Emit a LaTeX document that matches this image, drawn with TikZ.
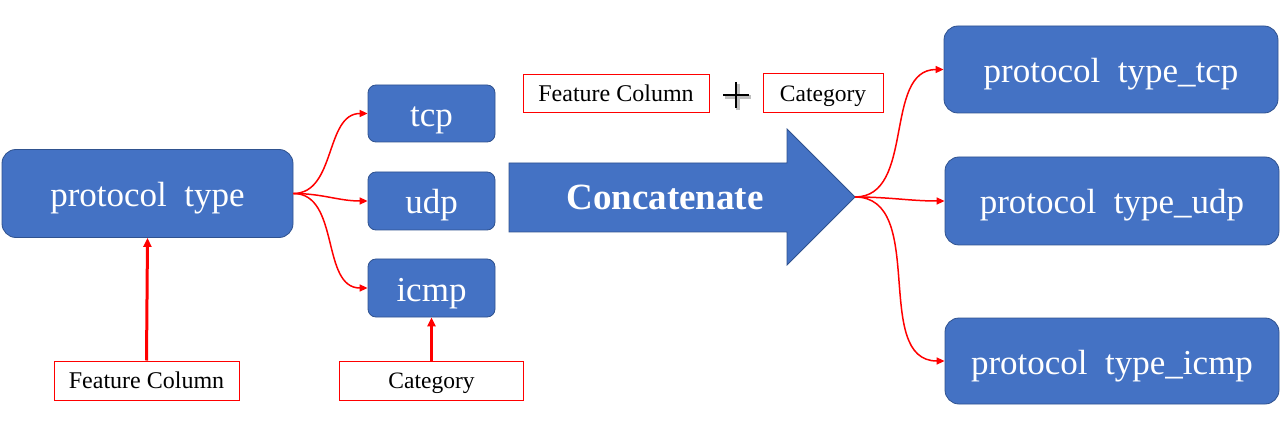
\documentclass[tikz,border=0pt]{standalone}
\usepackage{fontspec}
\setmainfont{Liberation Serif}
\usetikzlibrary{arrows.meta}
\definecolor{boxblue}{HTML}{4472C4}
\definecolor{boxedge}{HTML}{2F528F}
\tikzset{
  bluebox/.style={draw=boxedge, line width=0.8pt, fill=boxblue, text=white, rounded corners=#1, inner sep=0pt, font=\fontsize{35}{40}\selectfont, text height=35pt, text depth=9pt},
  bluebox/.default=14pt,
  redbox/.style={draw=red, line width=1pt, fill=white, text=black, inner sep=0pt, font=\fontsize{23.5}{26}\selectfont, text height=22pt, text depth=6pt},
  conn/.style={draw=red, line width=1.5pt, -{Triangle[length=8pt,width=7pt]}},
  thickconn/.style={draw=red, line width=3pt, -{Triangle[length=9pt,width=8pt]}},
}
\begin{document}
\begin{tikzpicture}[x=1pt,y=-1pt]
\useasboundingbox (0,0) rectangle (1280,422);
% left side
\node[bluebox, minimum width=291pt, minimum height=88pt] (pt) at (147.5,193.5) {protocol\ \ type};
\node[bluebox=8pt, minimum width=127pt, minimum height=57pt] (tcp) at (431.5,113.5) {tcp};
\node[bluebox=8pt, minimum width=127pt, minimum height=58pt] (udp) at (431.5,201) {udp};
\node[bluebox=8pt, minimum width=127pt, minimum height=58pt] (icmp) at (431.5,288) {icmp};
\node[redbox, minimum width=185pt, minimum height=39pt, font=\fontsize{24}{26}\selectfont] (fc) at (146.5,380.5) {Feature Column};
\node[redbox, minimum width=184pt, minimum height=39pt] (cat) at (431.5,380.5) {Category};
\draw[thickconn] (fc.north) -- (pt.south);
\draw[thickconn] (cat.north) -- (icmp.south);
\draw[conn] (pt.east) to[out=0,in=180] (tcp.west);
\draw[conn] (pt.east) to[out=0,in=180] (udp.west);
\draw[conn] (pt.east) to[out=0,in=180] (icmp.west);
% big arrow
\fill[boxblue, draw=boxedge, line width=0.8pt] (509,163) -- (787,163) -- (787,129) -- (855,197) -- (787,265) -- (787,232) -- (509,232) -- cycle;
\coordinate (tip) at (855,197);
\node[text=white, font=\fontsize{37}{40}\selectfont\bfseries, inner sep=0pt] (concat) at (665,197.5) {Concatenate};
% top labels
\node[redbox, minimum width=186pt, minimum height=38pt, font=\fontsize{24}{26}\selectfont] (fc2) at (616,94) {Feature Column};
\node[redbox, minimum width=120pt, minimum height=39pt] (cat2) at (823,93.5) {Category};
\draw[line width=3.4pt, black!25] (725,97) -- (751,97) (738,84) -- (738,110);
\draw[line width=2.8pt, black] (723,95) -- (749,95) (736,82) -- (736,108);
% right side
\node[bluebox, minimum width=334pt, minimum height=87pt] (rtcp) at (1111,69.5) {protocol\ \ type\_tcp};
\node[bluebox, minimum width=334pt, minimum height=88pt] (rudp) at (1112,201) {protocol\ \ type\_udp};
\node[bluebox, minimum width=334pt, minimum height=86pt] (ricmp) at (1112,361) {protocol\ \ type\_icmp};
\draw[conn] (tip) to[out=0,in=180] (rtcp.west);
\draw[conn] (tip) to[out=0,in=180] (rudp.west);
\draw[conn] (tip) to[out=0,in=180] (ricmp.west);
\end{tikzpicture}
\end{document}
